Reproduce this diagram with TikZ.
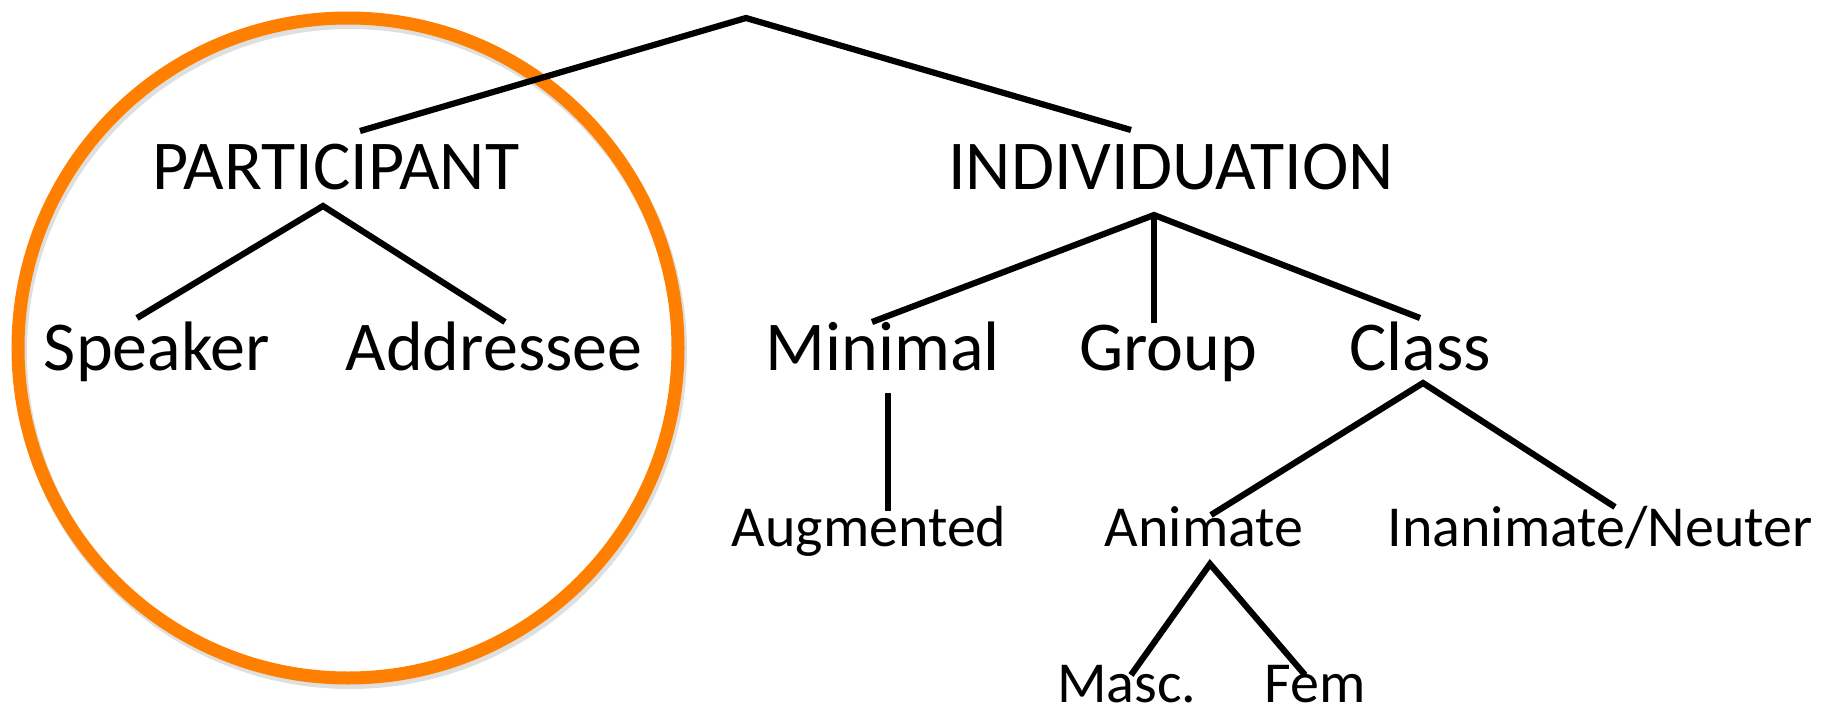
\documentclass[tikz,border=0pt]{standalone}
\usepackage{fontspec}
\setmainfont{Carlito}
\definecolor{circorange}{HTML}{FF8000}
\begin{document}
\begin{tikzpicture}[x=0.5pt,y=-0.5pt,
  big/.style={anchor=base,inner sep=0pt,font=\fontsize{35}{40}\selectfont},
  small/.style={anchor=base,inner sep=0pt,font=\fontsize{29}{34}\selectfont},
  branch/.style={line width=3.1pt,black}]
\useasboundingbox (0,0) rectangle (1822,712);
% highlight circle
\draw[black!25,line width=7pt,opacity=0.5] (350,352) circle[radius=330];
\draw[circorange,line width=6.5pt] (348,348) circle[radius=330];
% labels
\node[big] (part) at (336,189) {PARTICIPANT};
\node[big] (indiv) at (1171,189) {INDIVIDUATION};
\node[big] (spk) at (157,370) {Speaker};
\node[big] (addr) at (494,370) {Addressee};
\node[big] (minim) at (883,370) {Minimal};
\node[big] (group) at (1168,370) {Group};
\node[big] (class) at (1420,370) {Class};
\node[small] (aug) at (869,546) {Augmented};
\node[small] (anim) at (1204,546) {Animate};
\node[small] (inan) at (1600,546) {Inanimate/Neuter};
\node[small] (masc) at (1127,702) {Masc.};
\node[small] (fem) at (1315,702) {Fem};
% joints
\coordinate (root) at (746,18);
\coordinate (partT) at (360,131);
\coordinate (indivT) at (1131,130);
\coordinate (partB) at (323,206);
\coordinate (spkT) at (137,318);
\coordinate (addrT) at (505,322);
\coordinate (indivB) at (1154,215);
\coordinate (minimT) at (872,322);
\coordinate (groupT) at (1154,323);
\coordinate (classT) at (1420,318);
\coordinate (minimB) at (888,393);
\coordinate (augT) at (888,511);
\coordinate (classB) at (1423,383);
\coordinate (animT) at (1211,515);
\coordinate (inanT) at (1615,507);
\coordinate (animB) at (1210,564);
\coordinate (mascT) at (1131,675);
\coordinate (femT) at (1305,675);
% branches
\draw[branch] (partT) -- (root) -- (indivT);
\draw[branch] (spkT) -- (partB) -- (addrT);
\draw[branch] (minimT) -- (indivB) -- (classT);
\draw[branch] (indivB) -- (groupT);
\draw[branch] (minimB) -- (augT);
\draw[branch] (animT) -- (classB) -- (inanT);
\draw[branch] (mascT) -- (animB) -- (femT);
\end{tikzpicture}
\end{document}
